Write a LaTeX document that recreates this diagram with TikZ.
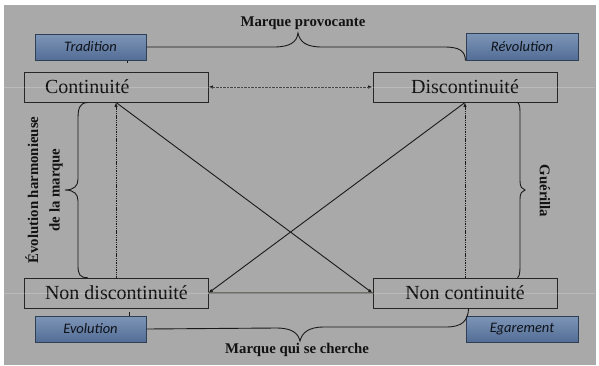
\documentclass[tikz,border=0pt]{standalone}
\usepackage{fontspec}
\setmainfont{Liberation Serif}
\newfontfamily\calib{Carlito}
\usetikzlibrary{arrows.meta,calc}
\definecolor{bg}{HTML}{A9A9A9}
\definecolor{txt}{HTML}{121212}
\definecolor{boxline}{HTML}{262626}
\definecolor{linec}{HTML}{1A1A1A}
\definecolor{midgray}{HTML}{6F6F6A}
\definecolor{bluetop}{HTML}{7D95B6}
\definecolor{bluebot}{HTML}{536D96}
\definecolor{blueline}{HTML}{2F3F55}
\definecolor{bluetxt}{HTML}{0E121A}
\tikzset{
  mainbox/.style={draw=boxline, line width=0.9pt, minimum width=184pt, minimum height=30pt, inner sep=0pt, font=\fontsize{20}{24}\selectfont, text=txt},
  bluebox/.style={draw=blueline, line width=1pt, top color=bluetop, bottom color=bluebot, minimum width=111pt, minimum height=26pt, inner sep=0pt, font=\calib\itshape\fontsize{14.5}{17}\selectfont, text=bluetxt},
  lab/.style={font=\bfseries\fontsize{14.8}{17}\selectfont, text=txt, inner sep=0pt},
  conn/.style={draw=linec, line width=0.9pt},
  tipend/.style={-{Latex[length=4.5pt,width=3.5pt]}},
}
\begin{document}
\begin{tikzpicture}[x=1pt,y=-1pt]
\useasboundingbox (0,0) rectangle (599,365);
\fill[white] (0,0) rectangle (599,365);
\fill[bg] (4,5) rectangle (596,365);

% main boxes
\node[mainbox] (cont) at (116,87) {\makebox[142pt][l]{Continuité}};
\node[mainbox] (disc) at (465,87) {Discontinuité};
\node[mainbox] (ndisc) at (116,293) {\makebox[142pt][l]{Non discontinuité}};
\node[mainbox] (ncont) at (465,293) {Non continuité};

% blue boxes
\node[bluebox] (trad) at (90.5,47) {Tradition};
\node[bluebox, minimum width=112pt, minimum height=27pt] (rev) at (522,46.5) {Révolution};
\node[bluebox] (evo) at (90.5,329) {Evolution};
\node[bluebox, minimum width=112pt] (ega) at (522,329) {Egarement};

% labels
\node[lab] (mp) at (303,23) {Marque provocante};
\node[lab] (mqc) at (297,350) {Marque qui se cherche};
\node[lab, rotate=90, align=center, font=\bfseries\fontsize{14.8}{21.5}\selectfont] (evh) at (44,190) {Évolution harmonieuse\\de la marque};
\node[lab, rotate=-90] (gue) at (545,191) {Guérilla};

% brace coordinates
\coordinate (lbt) at ($(cont.south west)+(64,0)$);
\coordinate (lbb) at ($(ndisc.north west)+(64,0)$);
\coordinate (lbtip) at (65,190);
\coordinate (rbt) at ($(disc.south east)+(-40,0)$);
\coordinate (rbb) at ($(ncont.north east)+(-40,0)$);
\coordinate (rbtip) at (525,190);
\coordinate (tbtip) at (298,33);
\coordinate (bbtip) at (300,341);
\coordinate (bbend) at ($(ncont.south west)+(96,0)$);

% horizontal links
\draw[conn, dash pattern=on 2.5pt off 1pt, {Latex[length=4.5pt,width=3.5pt]}-{Latex[length=4.5pt,width=3.5pt]}] (cont.east) -- (disc.west);
\draw[draw=midgray, line width=1.3pt] (ndisc.east) -- (ncont.west);

% verticals (dotted)
\draw[conn, dash pattern=on 1.4pt off 0.9pt, tipend] (ndisc.north) -- (cont.south);
\draw[conn, dash pattern=on 1.4pt off 0.9pt, tipend] (ncont.north) -- (disc.south);

% diagonals
\draw[conn, tipend] (cont.south) -- (ncont.west);
\draw[conn, tipend] (disc.south) -- (ndisc.east);

% left brace
\draw[conn] (lbt) .. controls (80,103) and (78,108) .. (78,118) -- (78,179)
  .. controls (78,186) and (74,190) .. (lbtip)
  .. controls (74,190) and (78,194) .. (78,201) -- (78,266)
  .. controls (78,274) and (80,278) .. (lbb);
% right brace
\draw[conn] (rbt) .. controls (520,104) and (520,108) .. (520,116) -- (520,181)
  .. controls (520,187) and (522,189) .. (rbtip)
  .. controls (522,191) and (520,193) .. (520,199) -- (520,266)
  .. controls (520,274) and (519,277) .. (rbb);
% top brace
\draw[conn] (trad.east) -- (274,47) .. controls (290,47) and (297,42) .. (tbtip)
  .. controls (300,42) and (306,47) .. (322,47) -- (444,47)
  .. controls (460,47) and (465,51) .. (rev.south west);
% bottom brace
\draw[conn] (evo.east) -- (276,328) .. controls (292,328) and (298,333) .. (bbtip)
  .. controls (302,333) and (308,327) .. (324,327) -- (446,327)
  .. controls (462,327) and (468,321) .. (bbend);

% small ticks
\draw[conn] ($(trad.south west)+(93,0)$) -- ++(0,2.5);
\draw[conn] ($(evo.north west)+(95,0)$) -- ++(0,-4);

% faint light lines
\draw[white, opacity=0.2, line width=0.7pt] (4,87) -- (595,87);
\draw[white, opacity=0.2, line width=0.7pt] (4,293) -- (595,293);
\end{tikzpicture}
\end{document}
